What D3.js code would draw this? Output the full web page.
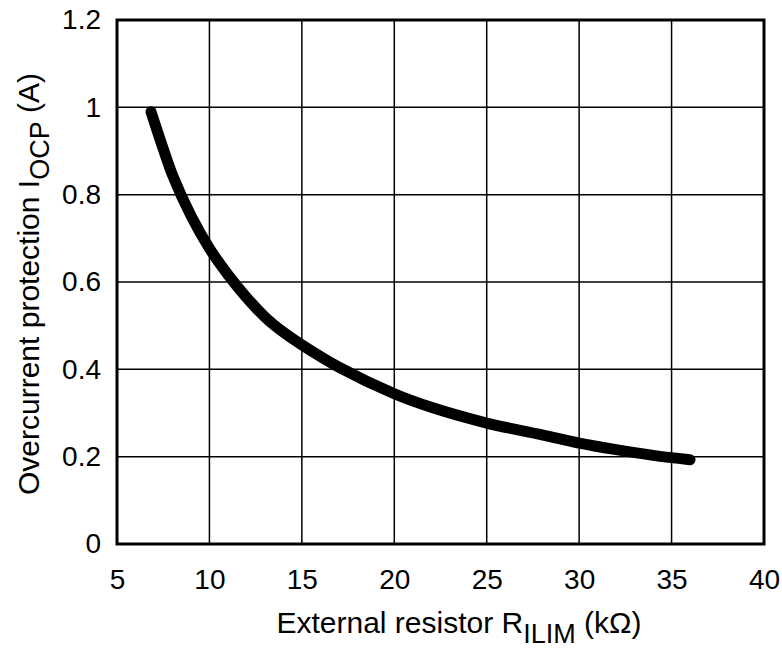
<!DOCTYPE html>
<html><head><meta charset="utf-8">
<script src="https://cdn.jsdelivr.net/npm/d3@7"></script>
<style>body{margin:0;background:#fff}text{font-family:"Liberation Sans",Arial,sans-serif}</style>
</head><body><svg id="c" width="782" height="652"></svg>
<script>
const resistance = [6.84, 7.5, 8, 9, 10, 11, 12, 13, 14, 15, 17, 20, 22, 25, 28, 30, 32, 34, 36];
const current    = [0.99, 0.905, 0.845, 0.752, 0.677, 0.617, 0.565, 0.52, 0.485, 0.456, 0.405, 0.344, 0.313, 0.277, 0.25, 0.231, 0.216, 0.203, 0.193];
const xTicks = [5, 10, 15, 20, 25, 30, 35, 40];
const yTicks = [0, 0.2, 0.4, 0.6, 0.8, 1, 1.2];

const svg = d3.select("#c");
const L = 117, R = 764, T = 20, B = 544;
const FS = 28, TS = 30, SS = 27;
const x = d3.scaleLinear().domain([5, 40]).range([L, R]);
const y = d3.scaleLinear().domain([0, 1.2]).range([B, T]);

// grid
svg.append("g").selectAll("line").data(xTicks).join("line")
  .attr("x1", d => x(d)).attr("x2", d => x(d)).attr("y1", T).attr("y2", B)
  .attr("stroke", "#000").attr("stroke-width", 1.5);
svg.append("g").selectAll("line").data(yTicks).join("line")
  .attr("y1", d => y(d)).attr("y2", d => y(d)).attr("x1", L).attr("x2", R)
  .attr("stroke", "#000").attr("stroke-width", 1.5);

// axes (labels only)
const xa = svg.append("g").attr("transform", `translate(0,${B})`)
  .call(d3.axisBottom(x).tickValues(xTicks).tickSize(0).tickPadding(25).tickFormat(d3.format("d")));
xa.select(".domain").remove();
xa.selectAll("text").attr("font-size", FS).attr("fill", "#000").style("font-family", "'Liberation Sans',Arial,sans-serif");
const ya = svg.append("g").attr("transform", `translate(${L},0)`)
  .call(d3.axisLeft(y).tickValues(yTicks).tickSize(0).tickPadding(16).tickFormat(d => String(d)));
ya.select(".domain").remove();
ya.selectAll("text").attr("font-size", FS).attr("fill", "#000").style("font-family", "'Liberation Sans',Arial,sans-serif");

// frame
svg.append("rect").attr("x", L).attr("y", T).attr("width", R - L).attr("height", B - T)
  .attr("fill", "none").attr("stroke", "#000").attr("stroke-width", 3);

// curve
const pts = resistance.map((r, i) => [r, current[i]]);
svg.append("path").datum(pts)
  .attr("d", d3.line().x(d => x(d[0])).y(d => y(d[1])).curve(d3.curveCatmullRom))
  .attr("fill", "none").attr("stroke", "#000").attr("stroke-width", 11)
  .attr("stroke-linecap", "round").attr("stroke-linejoin", "round");

// axis titles
const xt = svg.append("text").attr("x", 459).attr("y", 633).attr("text-anchor", "middle")
  .attr("font-size", TS).attr("fill", "#000");
xt.append("tspan").text("External resistor R");
xt.append("tspan").attr("font-size", SS).attr("dy", 10).text("ILIM");
xt.append("tspan").attr("dy", -10).text(" (kΩ)");

const yt = svg.append("text").attr("transform", `translate(39,284) rotate(-90)`)
  .attr("text-anchor", "middle").attr("font-size", TS).attr("fill", "#000");
yt.append("tspan").text("Overcurrent protection I");
yt.append("tspan").attr("font-size", SS).attr("dy", 10).text("OCP");
yt.append("tspan").attr("dy", -10).text(" (A)");
</script></body></html>
